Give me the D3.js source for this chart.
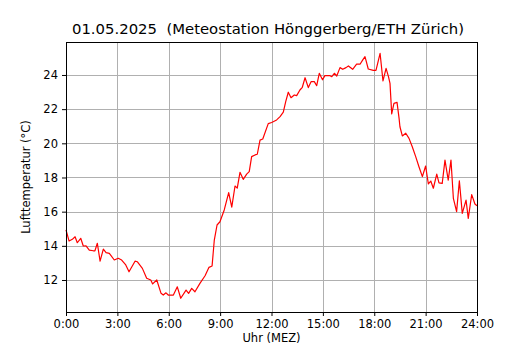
<!DOCTYPE html>
<html><head><meta charset="utf-8">
<script src="https://cdn.jsdelivr.net/npm/d3@7"></script>
<style>body{margin:0;background:#fff}svg{display:block}text{font-family:"DejaVu Sans",sans-serif}</style>
</head><body>
<script>
const title = "01.05.2025  (Meteostation Hönggerberg/ETH Zürich)";
const xLabel = "Uhr (MEZ)";
const yLabel = "Lufttemperatur (°C)";
const xTicks = [0,3,6,9,12,15,18,21,24];
const xTickLabels = ["0:00","3:00","6:00","9:00","12:00","15:00","18:00","21:00","24:00"];
const yTicks = [12,14,16,18,20,22,24];
const hours = [0.0,0.18,0.37,0.53,0.66,0.86,1.01,1.17,1.36,1.59,1.69,1.83,1.99,2.18,2.34,2.53,2.82,3.05,3.25,3.49,3.68,4.03,4.16,4.46,4.71,4.95,5.06,5.30,5.55,5.68,5.84,5.97,6.27,6.50,6.70,7.01,7.16,7.34,7.53,7.82,8.12,8.35,8.53,8.66,8.82,8.99,9.24,9.50,9.68,9.87,10.00,10.16,10.35,10.55,10.70,10.84,11.04,11.17,11.33,11.49,11.81,12.01,12.30,12.50,12.69,12.83,12.98,13.14,13.33,13.47,13.66,13.80,13.96,14.15,14.31,14.50,14.64,14.79,14.98,15.12,15.30,15.42,15.52,15.67,15.81,16.00,16.16,16.35,16.49,16.74,16.97,17.17,17.33,17.46,17.65,17.94,18.10,18.20,18.34,18.51,18.69,18.83,18.92,19.02,19.15,19.33,19.45,19.50,19.64,19.84,20.03,20.22,20.42,20.61,20.81,21.00,21.16,21.30,21.45,21.65,21.78,21.97,22.13,22.32,22.48,22.62,22.81,22.97,23.14,23.36,23.49,23.69,23.88,24.0];
const temps = [14.93,14.28,14.38,14.53,14.18,14.44,13.99,14.0,13.75,13.71,13.71,14.15,13.1,13.81,13.6,13.56,13.17,13.27,13.17,12.88,12.48,13.1,13.07,12.68,12.1,12.0,11.77,12.0,11.22,11.12,11.25,11.12,11.12,11.6,10.93,11.41,11.22,11.51,11.31,11.8,12.25,12.74,12.82,14.34,15.22,15.41,16.1,17.11,16.27,17.5,17.38,18.3,17.89,18.2,18.34,19.22,19.32,19.36,20.19,20.25,21.15,21.22,21.37,21.56,21.82,22.44,22.99,22.67,22.83,22.79,23.12,23.28,23.84,23.26,23.61,23.61,23.37,24.1,23.72,23.96,23.96,23.96,23.9,24.1,23.94,24.43,24.33,24.43,24.53,24.33,24.63,24.63,24.88,25.07,24.35,24.27,24.27,24.68,25.27,23.65,24.39,23.9,23.51,21.72,22.34,22.4,21.46,20.97,20.43,20.59,20.29,19.8,19.22,18.63,18.05,18.67,17.62,17.79,17.37,18.2,17.69,17.66,19.02,17.85,19.02,16.78,16.0,17.81,15.9,16.68,15.61,17.0,16.45,16.35];

const W = 530, H = 350;
const m = {left:66, right:477, top:42, bottom:312};
const svg = d3.select("body").append("svg").attr("width",W).attr("height",H);
const x = d3.scaleLinear().domain([0,24]).range([m.left,m.right]);
const y = d3.scaleLinear().domain([10.127,25.93]).range([m.bottom,m.top]);

// grid
svg.append("g").selectAll("line").data(xTicks).join("line")
  .attr("x1",d=>Math.round(x(d))+0.5).attr("x2",d=>Math.round(x(d))+0.5)
  .attr("y1",m.top).attr("y2",m.bottom).attr("stroke","#b0b0b0").attr("stroke-width",1);
svg.append("g").selectAll("line").data(yTicks).join("line")
  .attr("y1",d=>Math.round(y(d))+0.5).attr("y2",d=>Math.round(y(d))+0.5)
  .attr("x1",m.left).attr("x2",m.right).attr("stroke","#b0b0b0").attr("stroke-width",1);

// line
const line = d3.line().x((d,i)=>x(hours[i])).y(d=>y(d));
svg.append("path").datum(temps).attr("d",line).attr("fill","none")
  .attr("stroke","#ff0000").attr("stroke-width",1.2).attr("stroke-linejoin","round");

// axes
const xAxis = d3.axisBottom(x).tickValues(xTicks).tickFormat((d,i)=>xTickLabels[i]).tickSizeOuter(0).tickSize(4).tickPadding(4);
const gx = svg.append("g").attr("transform",`translate(0,${m.bottom})`).call(xAxis);
const yAxis = d3.axisLeft(y).tickValues(yTicks).tickSizeOuter(0).tickSize(4).tickPadding(4);
const gy = svg.append("g").attr("transform",`translate(${m.left},0)`).call(yAxis);
[gx,gy].forEach(g=>{
  g.select(".domain").remove();
  g.selectAll("text").attr("font-family","DejaVu Sans").attr("font-size",11.5).attr("fill","#000");
  g.selectAll("line").attr("stroke","#000");
});

// frame
svg.append("rect").attr("x",m.left+0.5).attr("y",m.top+0.5).attr("width",m.right-m.left).attr("height",m.bottom-m.top)
  .attr("fill","none").attr("stroke","#000").attr("stroke-width",1);

// labels
svg.append("text").attr("x",268).attr("y",34).attr("text-anchor","middle")
  .style("white-space","pre").attr("xml:space","preserve")
  .attr("font-size",14.85).text(title);
svg.append("text").attr("x",(m.left+m.right)/2).attr("y",342).attr("text-anchor","middle")
  .attr("font-size",11.5).text(xLabel);
svg.append("text").attr("transform",`translate(30,${(m.top+m.bottom)/2}) rotate(-90)`).attr("text-anchor","middle")
  .attr("font-size",11.5).text(yLabel);
</script>
</body></html>
